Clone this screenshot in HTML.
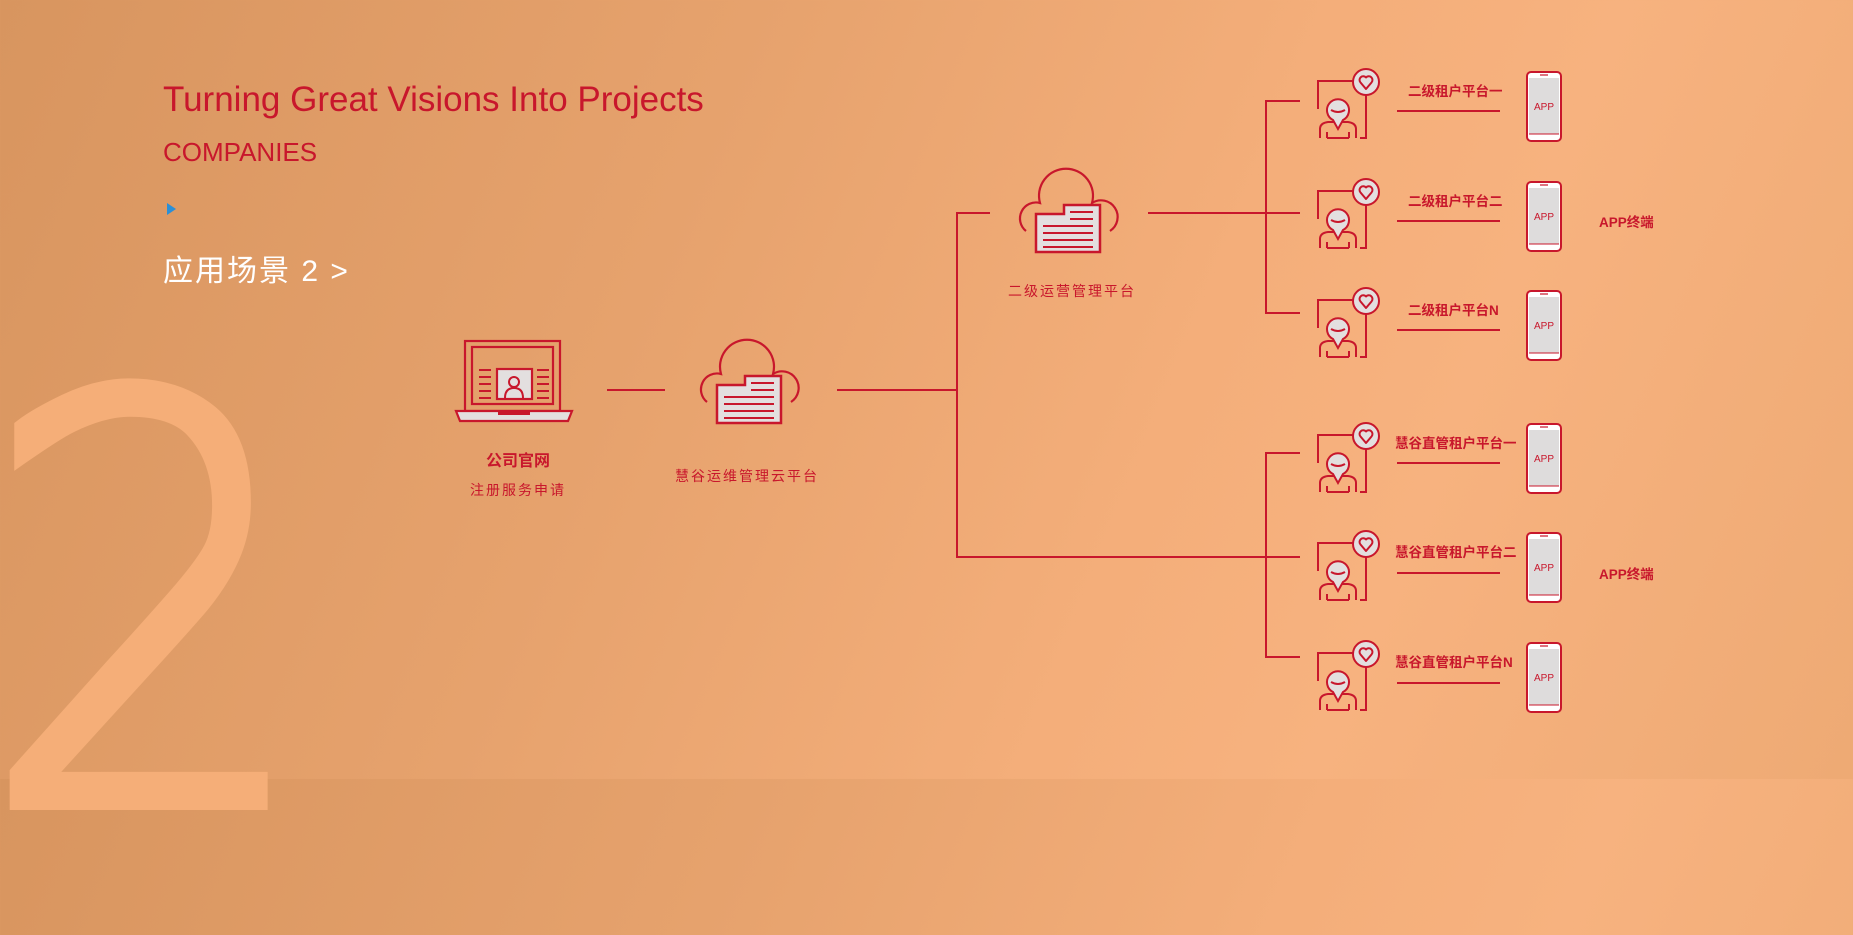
<!DOCTYPE html>
<html><head><meta charset="utf-8"><style>
html,body{margin:0;padding:0}
body{width:1853px;height:779px;overflow:hidden;position:relative;font-family:"Liberation Sans","Noto Sans CJK SC",sans-serif;
background:linear-gradient(112deg,#d8955f 0%,#e6a26d 35%,#f4ae7a 62%,#f7b27f 75%,#eeaa74 100%);}
.t{position:absolute;white-space:nowrap}
</style></head><body>
<div class="t" style="left:-19px;top:329px;font-family:'DejaVu Sans',sans-serif;font-size:560px;line-height:1;color:#f5ae78;-webkit-text-stroke:16px #f5ae78;transform:scaleX(0.93);transform-origin:0 0;font-weight:200">2</div>
<div class="t" style="left:163px;top:80px;font-size:35px;color:#c8172c">Turning Great Visions Into Projects</div>
<div class="t" style="left:163px;top:137px;font-size:26px;color:#c8172c">COMPANIES</div>
<div class="t" style="left:167px;top:203px;width:0;height:0;border-left:9px solid #2b8fd6;border-top:6px solid transparent;border-bottom:6px solid transparent"></div>
<div class="t" style="left:163px;top:246px;font-size:30px;color:#fff;letter-spacing:2px">应用场景 2 &gt;</div>

<div class="t" style="left:458px;top:447px;width:120px;text-align:center;font-size:16px;font-weight:bold;color:#c8172c">公司官网</div>
<div class="t" style="left:448px;top:480px;width:140px;text-align:center;font-size:14px;color:#c8172c;letter-spacing:2px">注册服务申请</div>
<div class="t" style="left:667px;top:466px;width:160px;text-align:center;font-size:14px;color:#c8172c;letter-spacing:2px">慧谷运维管理云平台</div>
<div class="t" style="left:992px;top:281px;width:160px;text-align:center;font-size:14px;color:#c8172c;letter-spacing:2px">二级运营管理平台</div>

<svg width="1853" height="779" style="position:absolute;left:0;top:0">
<defs>
<g id="cloud">
<path d="M10,68 A16,16 0 0 1 24,40 A27,27 0 1 1 76,40 A16,16 0 0 1 94,68" fill="none" stroke="#c8172c" stroke-width="2.2"/>
<path d="M20,89 L20,51 L48,51 L48,42 L84,42 L84,89 Z" fill="#e3dfdf" stroke="#c8172c" stroke-width="2.5"/>
<g stroke="#c8172c" stroke-width="2"><line x1="54" y1="49" x2="77" y2="49"/><line x1="54" y1="56" x2="77" y2="56"/><line x1="27" y1="63" x2="77" y2="63"/><line x1="27" y1="70" x2="77" y2="70"/><line x1="27" y1="77" x2="77" y2="77"/><line x1="27" y1="84" x2="77" y2="84"/></g>
</g>
<g id="person">
<path d="M0,44 L0,16 L35,16" fill="none" stroke="#c8172c" stroke-width="2"/>
<circle cx="48" cy="17" r="13" fill="#e3dfdf" stroke="#c8172c" stroke-width="2"/>
<path d="M48,24 L42.5,17.5 A3.6,3.6 0 0 1 48,12.5 A3.6,3.6 0 0 1 53.5,17.5 Z" fill="none" stroke="#c8172c" stroke-width="2" stroke-linejoin="round"/>
<path d="M48,30 L48,73 L42,73" fill="none" stroke="#c8172c" stroke-width="2"/>
<path d="M2,73 L2,64 Q2,58 10,57 L30,57 Q38,58 38,64 L38,73 M9,73 L9,67 M31,73 L31,67 M9,73 L31,73" fill="none" stroke="#c8172c" stroke-width="2"/>
<path d="M20,64 L15,55 A11,11 0 1 1 25,55 Z" fill="#e3dfdf" stroke="#c8172c" stroke-width="2"/>
<path d="M13,45 Q20,49 27,45" fill="none" stroke="#c8172c" stroke-width="2"/>
</g>
<g id="phone">
<rect x="1" y="1" width="34" height="69" rx="4" fill="#fff" stroke="#c8172c" stroke-width="2"/>
<rect x="3" y="7" width="30" height="56" fill="#dedcdc"/>
<line x1="3" y1="63" x2="33" y2="63" stroke="#c8172c" stroke-width="1"/>
<line x1="14" y1="4" x2="22" y2="4" stroke="#c8172c" stroke-width="1.2"/>
<text x="18" y="39" text-anchor="middle" font-size="10" fill="#c8172c" font-weight="normal" font-family="Liberation Sans,sans-serif">APP</text>
</g>
</defs>
<g stroke="#c8172c" stroke-width="2.2">
<rect x="465" y="341" width="95" height="70" fill="none"/>
<rect x="472" y="347" width="81" height="57" fill="none"/>
<path d="M456,411 L572,411 L568,421 L460,421 Z" fill="#e3dfdf"/>
<rect x="497" y="369" width="35" height="30" fill="#e3dfdf"/>
</g>
<rect x="498" y="412" width="32" height="3" fill="#c8172c"/>
<circle cx="514" cy="382" r="5" fill="none" stroke="#c8172c" stroke-width="2"/>
<path d="M505,398 Q505,388 514,388 Q523,388 523,398" fill="none" stroke="#c8172c" stroke-width="2"/>
<g stroke="#c8172c" stroke-width="2">
<line x1="479" y1="370" x2="491" y2="370"/><line x1="479" y1="377" x2="491" y2="377"/><line x1="479" y1="384" x2="491" y2="384"/><line x1="479" y1="391" x2="491" y2="391"/><line x1="479" y1="398" x2="491" y2="398"/>
<line x1="537" y1="370" x2="549" y2="370"/><line x1="537" y1="377" x2="549" y2="377"/><line x1="537" y1="384" x2="549" y2="384"/><line x1="537" y1="391" x2="549" y2="391"/><line x1="537" y1="398" x2="549" y2="398"/>
</g>
<use href="#cloud" x="697" y="334"/>
<use href="#cloud" x="1016" y="163"/>
<g stroke="#c8172c" stroke-width="2" fill="none">
<line x1="607" y1="390" x2="665" y2="390"/>
<line x1="837" y1="390" x2="957" y2="390"/>
<path d="M990,213 L957,213 L957,557 L1266,557"/>
<line x1="1148" y1="213" x2="1266" y2="213"/>
<path d="M1300,101 L1266,101 L1266,313 L1300,313 M1266,213 L1300,213"/>
<path d="M1300,453 L1266,453 L1266,657 L1300,657 M1266,557 L1300,557"/>
</g>
<g fill="#c8172c" font-weight="bold" font-size="13.5" font-family="Liberation Sans,Noto Sans CJK SC,sans-serif">
<use href="#person" x="1318" y="65"/><use href="#phone" x="1526" y="71"/>
<text x="1408" y="96">二级租户平台一</text><rect x="1397" y="110" width="103" height="2"/>
<use href="#person" x="1318" y="175"/><use href="#phone" x="1526" y="181"/>
<text x="1408" y="206">二级租户平台二</text><rect x="1397" y="220" width="103" height="2"/>
<use href="#person" x="1318" y="284"/><use href="#phone" x="1526" y="290"/>
<text x="1408" y="315">二级租户平台N</text><rect x="1397" y="329" width="103" height="2"/>
<use href="#person" x="1318" y="419"/><use href="#phone" x="1526" y="423"/>
<text x="1395" y="448">慧谷直管租户平台一</text><rect x="1397" y="462" width="103" height="2"/>
<use href="#person" x="1318" y="527"/><use href="#phone" x="1526" y="532"/>
<text x="1395" y="557">慧谷直管租户平台二</text><rect x="1397" y="572" width="103" height="2"/>
<use href="#person" x="1318" y="637"/><use href="#phone" x="1526" y="642"/>
<text x="1395" y="667">慧谷直管租户平台N</text><rect x="1397" y="682" width="103" height="2"/>
<text x="1599" y="227">APP终端</text>
<text x="1599" y="579">APP终端</text>
</g>
</svg>
</body></html>
